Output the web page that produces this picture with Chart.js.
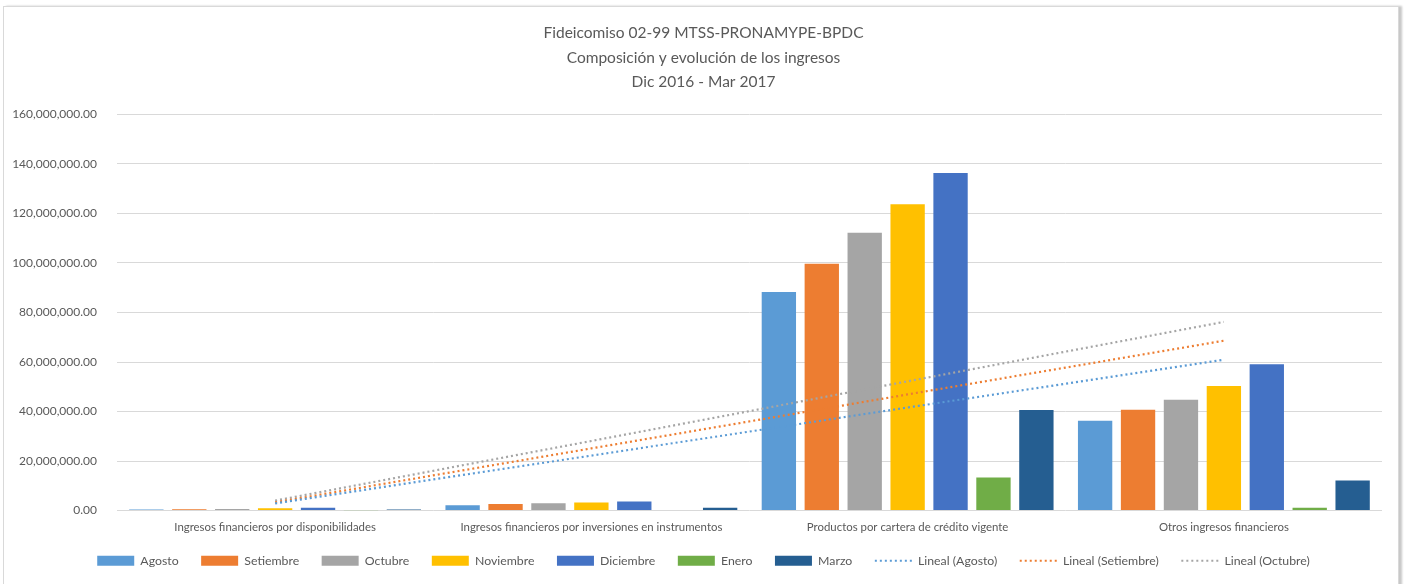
<!DOCTYPE html>
<html>
<head>
<meta charset="utf-8">
<script src="https://cdn.jsdelivr.net/npm/chart.js@4.4.1/dist/chart.umd.min.js"></script>
<style>
  html, body { margin: 0; padding: 0; background: #fff; overflow: hidden; }
  #frame {
    position: absolute; left: 3px; top: 6px; width: 1394px; height: 600px;
    border: 1px solid #d9d9d9; box-shadow: 3px 0 2px #c8c8c8; background: #fff;
  }
  #wrap { position: absolute; left: 0; top: 0; width: 1394px; height: 577px; }
</style>
</head>
<body>
<div id="frame"><div id="wrap"><canvas id="chart"></canvas></div></div>
<script>
// categorias del eje X
const categorias = [
  'Ingresos financieros por disponibilidades',
  'Ingresos financieros por inversiones en instrumentos',
  'Productos por cartera de crédito vigente',
  'Otros ingresos financieros'
];

// valores por mes (colones)
const agosto     = [400000, 2100000, 88300000, 36300000];
const setiembre  = [500000, 2600000, 99700000, 40700000];
const octubre    = [600000, 2900000, 112200000, 44800000];
const noviembre  = [900000, 3200000, 123700000, 50300000];
const diciembre  = [1100000, 3600000, 136400000, 59100000];
const enero      = [100000, 200000, 13300000, 1100000];
const marzo      = [400000, 1100000, 40600000, 12100000];

// lineas de tendencia
const linealAgosto    = [2900000, 22200000, 41600000, 60900000];
const linealSetiembre = [3300000, 25100000, 46900000, 68600000];
const linealOctubre   = [4000000, 28100000, 52200000, 76200000];

const ticksY = [0, 20000000, 40000000, 60000000, 80000000, 100000000, 120000000, 140000000, 160000000];

const textColor = '#595959';
const fontFamily = 'Lato, "Open Sans", sans-serif';

function barSet(label, data, color) {
  return {
    type: 'bar', label, data,
    backgroundColor: color,
    borderColor: color,
    borderWidth: 0,
    order: 2,
    categoryPercentage: 0.95,
    barPercentage: 0.8
  };
}

function trendSet(label, data, color) {
  return {
    type: 'line', label, data,
    borderColor: color,
    backgroundColor: color,
    borderWidth: 2.2,
    borderDash: [2, 3],
    borderCapStyle: 'butt',
    pointRadius: 0,
    fill: false,
    tension: 0,
    order: 1
  };
}

// no recortar las etiquetas al tamaño ajustado del eje
const noClip = (axis) => { axis._computeLabelArea = () => undefined; };

const ctx = document.getElementById('chart').getContext('2d');

new Chart(ctx, {
  data: {
    labels: categorias,
    datasets: [
      barSet('Agosto', agosto, '#5B9BD5'),
      barSet('Setiembre', setiembre, '#ED7D31'),
      barSet('Octubre', octubre, '#A5A5A5'),
      barSet('Noviembre', noviembre, '#FFC000'),
      barSet('Diciembre', diciembre, '#4472C4'),
      barSet('Enero', enero, '#70AD47'),
      barSet('Marzo', marzo, '#255E91'),
      trendSet('Lineal (Agosto)', linealAgosto, '#5B9BD5'),
      trendSet('Lineal (Setiembre)', linealSetiembre, '#ED7D31'),
      trendSet('Lineal (Octubre)', linealOctubre, '#A5A5A5')
    ]
  },
  options: {
    responsive: true,
    maintainAspectRatio: false,
    animation: false,
    layout: { padding: { left: 21, right: 16, top: 8, bottom: 7 } },
    plugins: {
      tooltip: { enabled: false },
      title: {
        display: true,
        text: ['Fideicomiso 02-99 MTSS-PRONAMYPE-BPDC', 'Composición y evolución de los ingresos', 'Dic 2016 - Mar 2017'],
        color: textColor,
        font: { family: fontFamily, size: 15.5, weight: 'normal', lineHeight: 1.58 },
        padding: { top: 6, bottom: 20 }
      },
      legend: {
        position: 'bottom',
        labels: {
          color: textColor,
          font: { family: fontFamily, size: 12.3 },
          usePointStyle: true,
          pointStyleWidth: 37,
          boxWidth: 37,
          boxHeight: 10,
          padding: 22.5,
          sort: (a, b) => a.datasetIndex - b.datasetIndex,
          generateLabels: (chart) => chart.data.datasets.map((ds, i) => {
            const isLine = ds.type === 'line';
            return {
              text: ds.label,
              datasetIndex: i,
              fillStyle: isLine ? 'rgba(0,0,0,0)' : ds.backgroundColor,
              strokeStyle: ds.borderColor,
              lineWidth: isLine ? 2 : 0,
              lineDash: isLine ? [2, 3] : [],
              pointStyle: isLine ? 'line' : 'rect',
              fontColor: textColor,
              hidden: false
            };
          })
        }
      }
    },
    scales: {
      x: {
        grid: { display: false },
        border: { display: false },
        afterFit: (axis) => { axis.height -= 4; },
        afterUpdate: noClip,
        ticks: {
          color: textColor,
          font: { family: fontFamily, size: 11.4 },
          maxRotation: 0,
          autoSkip: false,
          padding: 2
        }
      },
      y: {
        min: 0,
        max: 160000000,
        afterBuildTicks: (axis) => { axis.ticks = ticksY.map(v => ({ value: v })); },
        afterFit: (axis) => { axis.width = 92; },
        afterUpdate: noClip,
        grid: { color: '#d9d9d9', lineWidth: 1, drawTicks: false },
        border: { display: false },
        ticks: {
          color: textColor,
          font: { family: fontFamily, size: 12 },
          padding: 20,
          callback: (v) => Number(v).toLocaleString('en-US', { minimumFractionDigits: 2, maximumFractionDigits: 2 })
        }
      }
    }
  }
});
</script>
</body>
</html>
